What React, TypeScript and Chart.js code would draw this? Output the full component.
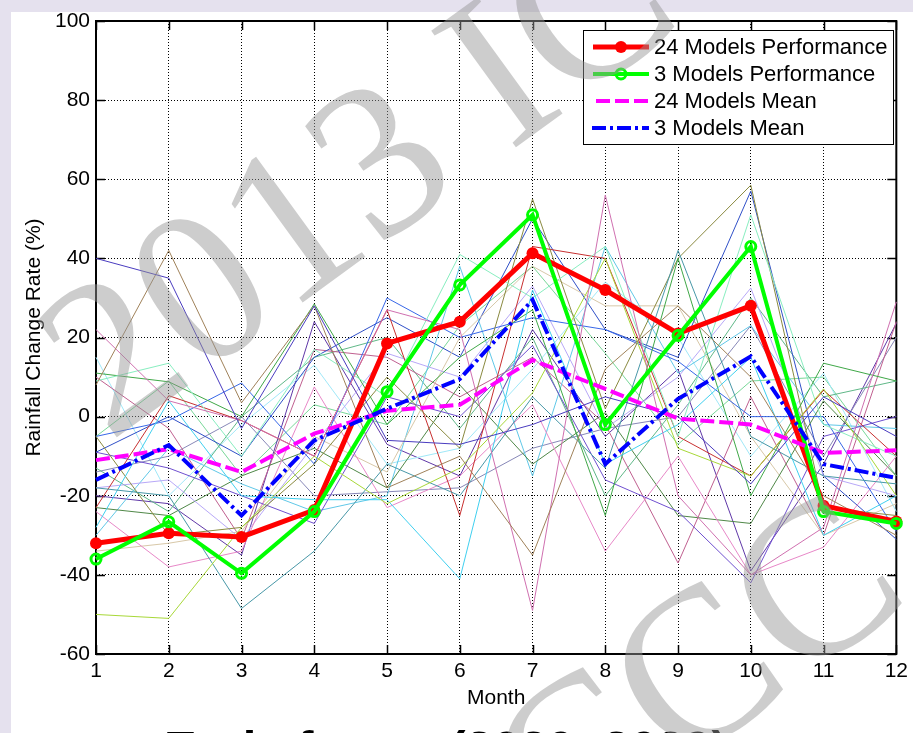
import React, { useEffect, useRef } from "react";
import { Chart, registerables } from "chart.js";

Chart.register(...registerables);

// ---------------- data ----------------
const MONTHS = [1, 2, 3, 4, 5, 6, 7, 8, 9, 10, 11, 12];

const PERF_24 = [-32, -29.5, -30.4, -23.6, 18.5, 24, 41.3, 32, 21, 28, -22.5, -26.5];
const PERF_3 = [-36, -26.6, -39.6, -24, 6.3, 33.3, 51, -2, 20.5, 43, -24, -27];
const MEAN_24 = [-11, -8.2, -14, -4.3, 1.5, 3, 14.3, 7, -0.5, -2, -9.2, -8.5];
const MEAN_3 = [-16, -7.2, -25, -6, 2, 9.5, 29.5, -12, 4.5, 15.2, -12, -15.5];

const MODEL_01 = [40, 35, -3, 28, -6, -7, -2, 5, 0, -17, 5, -5];
const MODEL_02 = [8, 42, 3.5, 28, -18, -10, -35, 12, 28, 10, -20, -30];
const MODEL_03 = [22, 4, -1, -10, 27, 22, -49, 56, -20, -40, -28, 29];
const MODEL_04 = [-50, -51, -28, -10, -22, -13, 6, 40, -8, -15, 7, -20];
const MODEL_05 = [-18, -20, -48.5, -34, -12, -20, 5, -13, 42, -5, -15, -17];
const MODEL_06 = [-28, 4, -20, -21, -21, -41, 32, -12, -2, 15, -30, -20];
const MODEL_07 = [9, 13.5, -10, 17, 5, 41, 30, 43, -5, 51, -2, -10];
const MODEL_08 = [11, 8.8, 0, 28.5, -2, 15, 27, -25, 40, -20, 13.5, 9];
const MODEL_09 = [-5, -30, -28, -12, 10, -8, 55, 2, 40, 58.5, -23, -25];
const MODEL_10 = [-5, -1, 8.5, -12, 30, 20, 25, 22, 14, 0, 0, -29];
const MODEL_11 = [-23, 5.3, -1, -10, 27, -25, 43, 40, -5, -15, 6.7, -10];
const MODEL_12 = [-9, -13, -20, -27, 5, 0, 18, -16, -24, -42, -5, 0];
const MODEL_13 = [-24, -38, -34, 7.5, -23, -15, 3, -34, -10, -40, -33, -10];
const MODEL_14 = [-18, -16, -31, -7, 16, 10, 33, -3, 10, 32.5, -15, -20];
const MODEL_15 = [-23, -25, -15, -8, -18, 8, -12, 1, -25, -27, 4, -15];
const MODEL_16 = [-34, -32, -29, -5, -14, 20, 38, 28, 28, -5, -30, -22];
const MODEL_17 = [-30, -8, -17, -24, -20, 38, -15, 43, 11, 23, -2, -3];
const MODEL_18 = [-9, 0, -10, 15, 25, 15, 50, 22, 15, 57, -15, -31];
const MODEL_19 = [10, -3, -31, 17, 15, 5, 15, -2, -37, 5, -30, 24];
const MODEL_20 = [-13, -24, 0, 15, 20, -3, 20, -20, 3, 30, 5, 9];
const MODEL_21 = [-14, -10, 0, -20, -19, -18, -8, -3, 0, 23, -10, 20];
const MODEL_22 = [15, -20, -2, 13, -12, -8, 12, 34, 20, -10, 11, -24];
const MODEL_23 = [-20, -22, -35, 24, -7, -15, 22, -5, 12, -39, -12, 23.6];
const MODEL_24 = [-5, 9, -15, 3, -2, 23, 38, 16, -7, 9, 10, -15];

const MODELS = [
  MODEL_01, MODEL_02, MODEL_03, MODEL_04, MODEL_05, MODEL_06, MODEL_07, MODEL_08,
  MODEL_09, MODEL_10, MODEL_11, MODEL_12, MODEL_13, MODEL_14, MODEL_15, MODEL_16,
  MODEL_17, MODEL_18, MODEL_19, MODEL_20, MODEL_21, MODEL_22, MODEL_23, MODEL_24,
];
const MODEL_COLORS = [
  "#4a3cc0", "#a0825a", "#d070b0", "#a8d838", "#4898a8", "#40d0f0", "#88eec0", "#40a848",
  "#8a8a40", "#3868e8", "#c83030", "#7050d0", "#e888c8", "#b8a8f8", "#508848", "#d8c8a8",
  "#60c8e8", "#3050c8", "#c06090", "#60b888", "#8888b8", "#a0e8f8", "#6038a8", "#78d898",
];

const LEGEND_LABELS = ["24 Models Performance", "3 Models Performance", "24 Models Mean", "3 Models Mean"];
const X_TITLE = "Month";
const Y_TITLE = "Rainfall Change Rate (%)";
const BOTTOM_TEXT = "Early future (2020~2039)";
const WATERMARK = "2013 ICCC";

const Y_MIN = -60;
const Y_MAX = 100;
const Y_STEP = 20;

const FONT = '"Liberation Sans", Arial, sans-serif';

const toPts = (arr: number[]) => arr.map((v, i) => ({ x: MONTHS[i], y: v }));

const decorPlugin = {
  id: "decor",
  beforeDraw(chart: any) {
    const { ctx, width, height } = chart;
    ctx.save();
    ctx.fillStyle = "rgb(229,225,238)";
    ctx.fillRect(0, 0, width, height);
    ctx.fillStyle = "#ffffff";
    ctx.fillRect(11, 12, width - 11, height - 12);
    ctx.restore();
  },
  beforeDatasetsDraw(chart: any) {
    const { ctx, chartArea: a, scales } = chart;
    ctx.save();
    ctx.strokeStyle = "#000";
    ctx.lineWidth = 1.5;
    const tl = 9;
    ctx.beginPath();
    for (const m of MONTHS) {
      const px = Math.round(scales.x.getPixelForValue(m)) + 0.5;
      ctx.moveTo(px, a.bottom);
      ctx.lineTo(px, a.bottom - tl);
      ctx.moveTo(px, a.top);
      ctx.lineTo(px, a.top + tl);
    }
    for (let v = Y_MIN; v <= Y_MAX; v += Y_STEP) {
      const py = Math.round(scales.y.getPixelForValue(v)) + 0.5;
      ctx.moveTo(a.left, py);
      ctx.lineTo(a.left + tl, py);
      ctx.moveTo(a.right, py);
      ctx.lineTo(a.right - tl, py);
    }
    ctx.stroke();
    ctx.lineWidth = 2;
    ctx.strokeRect(a.left, a.top, a.right - a.left, a.bottom - a.top);
    ctx.restore();
  },
  afterDraw(chart: any) {
    const { ctx } = chart;
    // legend
    ctx.save();
    const bx = 583, by = 30, bw = 310, bh = 114;
    ctx.fillStyle = "#fff";
    ctx.fillRect(bx, by, bw, bh);
    ctx.strokeStyle = "#000";
    ctx.lineWidth = 1;
    ctx.strokeRect(bx + 0.5, by + 0.5, bw, bh);
    const rows = [47, 74, 101, 128];
    const x0 = 593, x1 = 649, xm = 621;
    ctx.lineCap = "butt";
    ctx.strokeStyle = "#ff0000";
    ctx.lineWidth = 5;
    ctx.beginPath(); ctx.moveTo(x0, rows[0]); ctx.lineTo(x1, rows[0]); ctx.stroke();
    ctx.fillStyle = "#ff0000";
    ctx.beginPath(); ctx.arc(xm, rows[0], 6, 0, Math.PI * 2); ctx.fill();
    ctx.strokeStyle = "#00ff00";
    ctx.lineWidth = 4;
    ctx.beginPath(); ctx.moveTo(x0, rows[1]); ctx.lineTo(x1, rows[1]); ctx.stroke();
    ctx.lineWidth = 3;
    ctx.beginPath(); ctx.arc(xm, rows[1], 5, 0, Math.PI * 2); ctx.stroke();
    ctx.strokeStyle = "#ff00ff";
    ctx.lineWidth = 4;
    ctx.setLineDash([14, 5]);
    ctx.beginPath(); ctx.moveTo(596, rows[2]); ctx.lineTo(x1, rows[2]); ctx.stroke();
    ctx.strokeStyle = "#0000ff";
    ctx.setLineDash([14, 4, 3, 4]);
    ctx.beginPath(); ctx.moveTo(592, rows[3]); ctx.lineTo(x1, rows[3]); ctx.stroke();
    ctx.setLineDash([]);
    ctx.fillStyle = "#000";
    ctx.font = `22px ${FONT}`;
    ctx.textBaseline = "middle";
    ctx.textAlign = "left";
    LEGEND_LABELS.forEach((t, i) => ctx.fillText(t, 654, rows[i] + 1));
    ctx.restore();

    // bottom caption (mostly cut off)
    ctx.save();
    ctx.fillStyle = "#000";
    ctx.font = `bold 100px ${FONT}`;
    const w100 = ctx.measureText(BOTTOM_TEXT).width;
    const size = (100 * 564) / w100;
    ctx.font = `bold ${size}px ${FONT}`;
    ctx.textBaseline = "alphabetic";
    ctx.textAlign = "left";
    ctx.fillText(BOTTOM_TEXT, 164, 730 + size * 0.716);
    ctx.restore();

    // watermark
    const drawWM = (ox: number, oy: number) => {
      ctx.save();
      ctx.translate(ox, oy);
      ctx.rotate((-36 * Math.PI) / 180);
      ctx.font = '220px "Liberation Serif", "Times New Roman", serif';
      ctx.fillStyle = "rgba(150,150,150,0.48)";
      ctx.textBaseline = "alphabetic";
      ctx.textAlign = "left";
      let x = 0;
      for (const ch of WATERMARK) {
        ctx.fillText(ch, x, 0);
        x += ctx.measureText(ch).width;
      }
      ctx.restore();
    };
    drawWM(109, 443);
    drawWM(99, 1192);
  },
};

export default function App() {
  const ref = useRef<HTMLCanvasElement | null>(null);

  useEffect(() => {
    if (!ref.current) return;
    const thin = MODELS.map((vals, i) => ({
      label: `Model ${i + 1}`,
      data: toPts(vals),
      borderColor: MODEL_COLORS[i],
      borderWidth: 1,
      pointRadius: 0,
      tension: 0,
      fill: false,
      clip: false as any,
      order: 10,
    }));
    const chart = new Chart(ref.current, {
      type: "line",
      data: {
        datasets: [
          ...thin,
          {
            label: LEGEND_LABELS[0],
            data: toPts(PERF_24),
            borderColor: "#ff0000",
            backgroundColor: "#ff0000",
            borderWidth: 5,
            pointRadius: 6,
            pointBorderWidth: 0,
            pointBackgroundColor: "#ff0000",
            tension: 0,
            clip: false as any,
            order: 4,
          },
          {
            label: LEGEND_LABELS[1],
            data: toPts(PERF_3),
            borderColor: "#00ff00",
            borderWidth: 4,
            pointRadius: 5,
            pointBorderWidth: 3,
            pointBorderColor: "#00ff00",
            pointBackgroundColor: "rgba(255,255,255,0)",
            tension: 0,
            clip: false as any,
            order: 3,
          },
          {
            label: LEGEND_LABELS[2],
            data: toPts(MEAN_24),
            borderColor: "#ff00ff",
            borderWidth: 4,
            borderDash: [14, 5],
            pointRadius: 0,
            tension: 0,
            clip: false as any,
            order: 2,
          },
          {
            label: LEGEND_LABELS[3],
            data: toPts(MEAN_3),
            borderColor: "#0000ff",
            borderWidth: 4,
            borderDash: [14, 4, 3, 4],
            pointRadius: 0,
            tension: 0,
            clip: false as any,
            order: 1,
          },
        ] as any,
      },
      options: {
        responsive: false,
        animation: false,
        devicePixelRatio: 1,
        layout: { padding: { left: 0, top: 21, right: 12, bottom: 0 } },
        plugins: { legend: { display: false }, tooltip: { enabled: false } },
        scales: {
          x: {
            type: "linear",
            min: 1,
            max: 12,
            afterFit: (s: any) => { s.height = 79; },
            ticks: {
              stepSize: 1,
              color: "#000",
              font: { family: FONT, size: 21 },
              padding: 5,
              maxRotation: 0,
              autoSkip: false,
            },
            grid: { color: "#000", lineWidth: 1, drawTicks: false },
            border: { display: false, dash: [1, 2] },
            title: {
              display: true,
              text: X_TITLE,
              color: "#000",
              font: { family: FONT, size: 21 },
              padding: { top: 0, bottom: 22 },
            },
          },
          y: {
            type: "linear",
            min: Y_MIN,
            max: Y_MAX,
            afterFit: (s: any) => { s.width = 96; },
            ticks: {
              stepSize: Y_STEP,
              color: "#000",
              font: { family: FONT, size: 21 },
              padding: 6,
            },
            grid: { color: "#000", lineWidth: 1, drawTicks: false },
            border: { display: false, dash: [1, 2] },
            title: {
              display: true,
              text: Y_TITLE,
              color: "#000",
              font: { family: FONT, size: 21 },
              padding: { top: 22, bottom: 0 },
            },
          },
        },
      } as any,
      plugins: [decorPlugin],
    });
    return () => chart.destroy();
  }, []);

  return (
    <div style={{ position: "fixed", left: 0, top: 0, width: 913, height: 733, overflow: "hidden" }}>
      <canvas ref={ref} width={913} height={733} style={{ display: "block", width: 913, height: 733 }} />
    </div>
  );
}
